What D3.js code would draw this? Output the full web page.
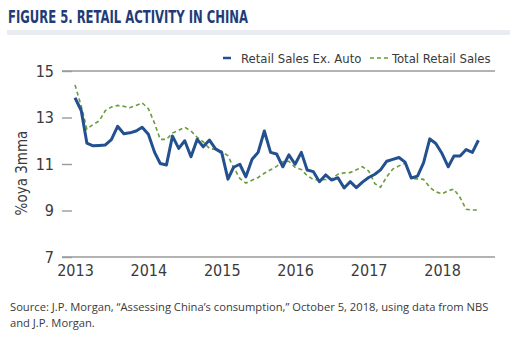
<!DOCTYPE html>
<html>
<head>
<meta charset="utf-8">
<script src="https://cdn.jsdelivr.net/npm/d3@7"></script>
<style>
  body { margin: 0; background: #fff; }
  svg { display: block; }
  .cond { font-family: "Liberation Sans Narrow", "DejaVu Sans Condensed", "Roboto", sans-serif; }
</style>
</head>
<body>
<div class="chart"></div>
<script>
// monthly series, Jan 2013 - Jul 2018 (%oya 3mma)
const startYear = 2013;
const exAuto = [
  13.85, 13.3, 11.9, 11.78, 11.8, 11.82, 12.05, 12.62, 12.3, 12.34, 12.42, 12.58,
  12.28, 11.5, 11.02, 10.96, 12.2, 11.67, 12.0, 11.31, 12.06, 11.74, 12.03, 11.65,
  11.49, 10.35, 10.86, 10.99, 10.45, 11.2, 11.5, 12.42, 11.5, 11.43, 10.88, 11.39,
  10.99, 11.5, 10.74, 10.67, 10.24, 10.53, 10.31, 10.41, 9.97, 10.24, 9.98, 10.22,
  10.42, 10.56, 10.75, 11.12, 11.2, 11.28, 11.08, 10.4, 10.48, 11.05, 12.08, 11.88,
  11.45, 10.88, 11.34, 11.34, 11.62, 11.5, 12.02
];
const totalRetail = [
  14.4, 13.5, 12.5, 12.7, 12.85, 13.3, 13.45, 13.52, 13.48, 13.42, 13.52, 13.63,
  13.38, 12.75, 12.06, 12.06, 12.33, 12.45, 12.58, 12.42, 12.15, 11.95, 11.67, 11.62,
  11.55, 11.35, 10.85, 10.38, 10.18, 10.3, 10.42, 10.6, 10.75, 10.9, 11.1, 11.12,
  10.86, 10.76, 10.5, 10.33, 10.31, 10.33, 10.36, 10.56, 10.62, 10.63, 10.75, 10.88,
  10.7, 10.15, 10.0, 10.45, 10.78, 10.92, 11.03, 10.38, 10.36, 10.34, 10.0, 9.8,
  9.72, 9.85, 9.92, 9.55, 9.05, 9.02, 9.02
];
const yTicks = [7, 9, 11, 13, 15];
const seriesNames = ['Retail Sales Ex. Auto', 'Total Retail Sales'];

const width = 517, height = 346;
const blue = '#23508f', green = '#6a9c3a', grey = '#9a9a9a', ink = '#3a3a3a';

const svg = d3.select('.chart').append('svg')
  .attr('width', width).attr('height', height);

// title + band
svg.append('text').attr('class', 'cond')
  .attr('x', 8).attr('y', 23)
  .attr('textLength', 240).attr('lengthAdjust', 'spacingAndGlyphs')
  .style('font-size', '17px').style('font-weight', 'bold').style('fill', '#1f3c78')
  .text('FIGURE 5. RETAIL ACTIVITY IN CHINA');
svg.append('rect').attr('x', 7).attr('y', 30).attr('width', 503).attr('height', 5)
  .style('fill', '#e9ecf1');

// scales
const monthDate = i => new Date(startYear, i, 1);
const x = d3.scaleTime()
  .domain([new Date(2013, 0, 1), new Date(2019, 0, 1)])
  .range([75, 75 + 6 * 73.4]);
const y = d3.scaleLinear().domain([7, 15]).range([257, 71]);

// frame lines at 15 and 7, short ticks in between
const g = svg.append('g');
g.selectAll('.hline').data([15, 7]).enter().append('line')
  .attr('x1', 62).attr('x2', 495)
  .attr('y1', d => y(d)).attr('y2', d => y(d))
  .style('stroke', grey).style('stroke-width', 1.6);

const yAxis = d3.axisLeft(y).tickValues(yTicks).tickSize(10).tickPadding(8);
const yAxisDraw = g.append('g').attr('transform', 'translate(72,0)').call(yAxis);
yAxisDraw.select('.domain').remove();
yAxisDraw.selectAll('line').style('stroke', grey).style('stroke-width', 1.4);
yAxisDraw.selectAll('text').attr('class', 'cond')
  .style('font-size', '16px').style('fill', ink);

const xAxis = d3.axisBottom(x).ticks(d3.timeYear.every(1)).tickFormat(d3.timeFormat('%Y'))
  .tickSize(0).tickPadding(8);
const xAxisDraw = g.append('g').attr('transform', 'translate(0,257)').call(xAxis);
xAxisDraw.select('.domain').remove();
xAxisDraw.selectAll('.tick').filter(d => d.getFullYear() > 2018).remove();
xAxisDraw.selectAll('text').attr('class', 'cond')
  .style('font-size', '16px').style('fill', ink);

// y label
svg.append('text').attr('class', 'cond')
  .attr('transform', 'translate(27,173) rotate(-90)')
  .style('text-anchor', 'middle').style('font-size', '15px').style('fill', ink)
  .text('%oya 3mma');

// lines
const line = d3.line()
  .x((d, i) => x(monthDate(i)))
  .y(d => y(d));

g.append('path').datum(totalRetail)
  .attr('d', line)
  .style('fill', 'none').style('stroke', green)
  .style('stroke-width', 1.6).style('stroke-dasharray', '4,3');

g.append('path').datum(exAuto)
  .attr('d', line)
  .style('fill', 'none').style('stroke', blue)
  .style('stroke-width', 3).style('stroke-linejoin', 'round');

// legend
const legend = svg.append('g').attr('class', 'cond')
  .style('font-size', '13px').style('fill', ink);
legend.append('line').attr('x1', 223).attr('x2', 231).attr('y1', 58).attr('y2', 58)
  .style('stroke', blue).style('stroke-width', 2.5);
legend.append('text').attr('x', 241).attr('y', 63).text(seriesNames[0]);
legend.append('line').attr('x1', 370).attr('x2', 388).attr('y1', 58).attr('y2', 58)
  .style('stroke', green).style('stroke-width', 1.6).style('stroke-dasharray', '4,3');
legend.append('text').attr('x', 392).attr('y', 63).text(seriesNames[1]);

// source note
const note = svg.append('text')
  .style('font-family', '"Open Sans", "Liberation Sans", sans-serif')
  .style('font-size', '11.2px').style('fill', ink);
note.append('tspan').attr('x', 10).attr('y', 311)
  .text('Source: J.P. Morgan, \u201cAssessing China\u2019s consumption,\u201d October 5, 2018, using data from NBS');
note.append('tspan').attr('x', 10).attr('y', 327).text('and J.P. Morgan.');
</script>
</body>
</html>
